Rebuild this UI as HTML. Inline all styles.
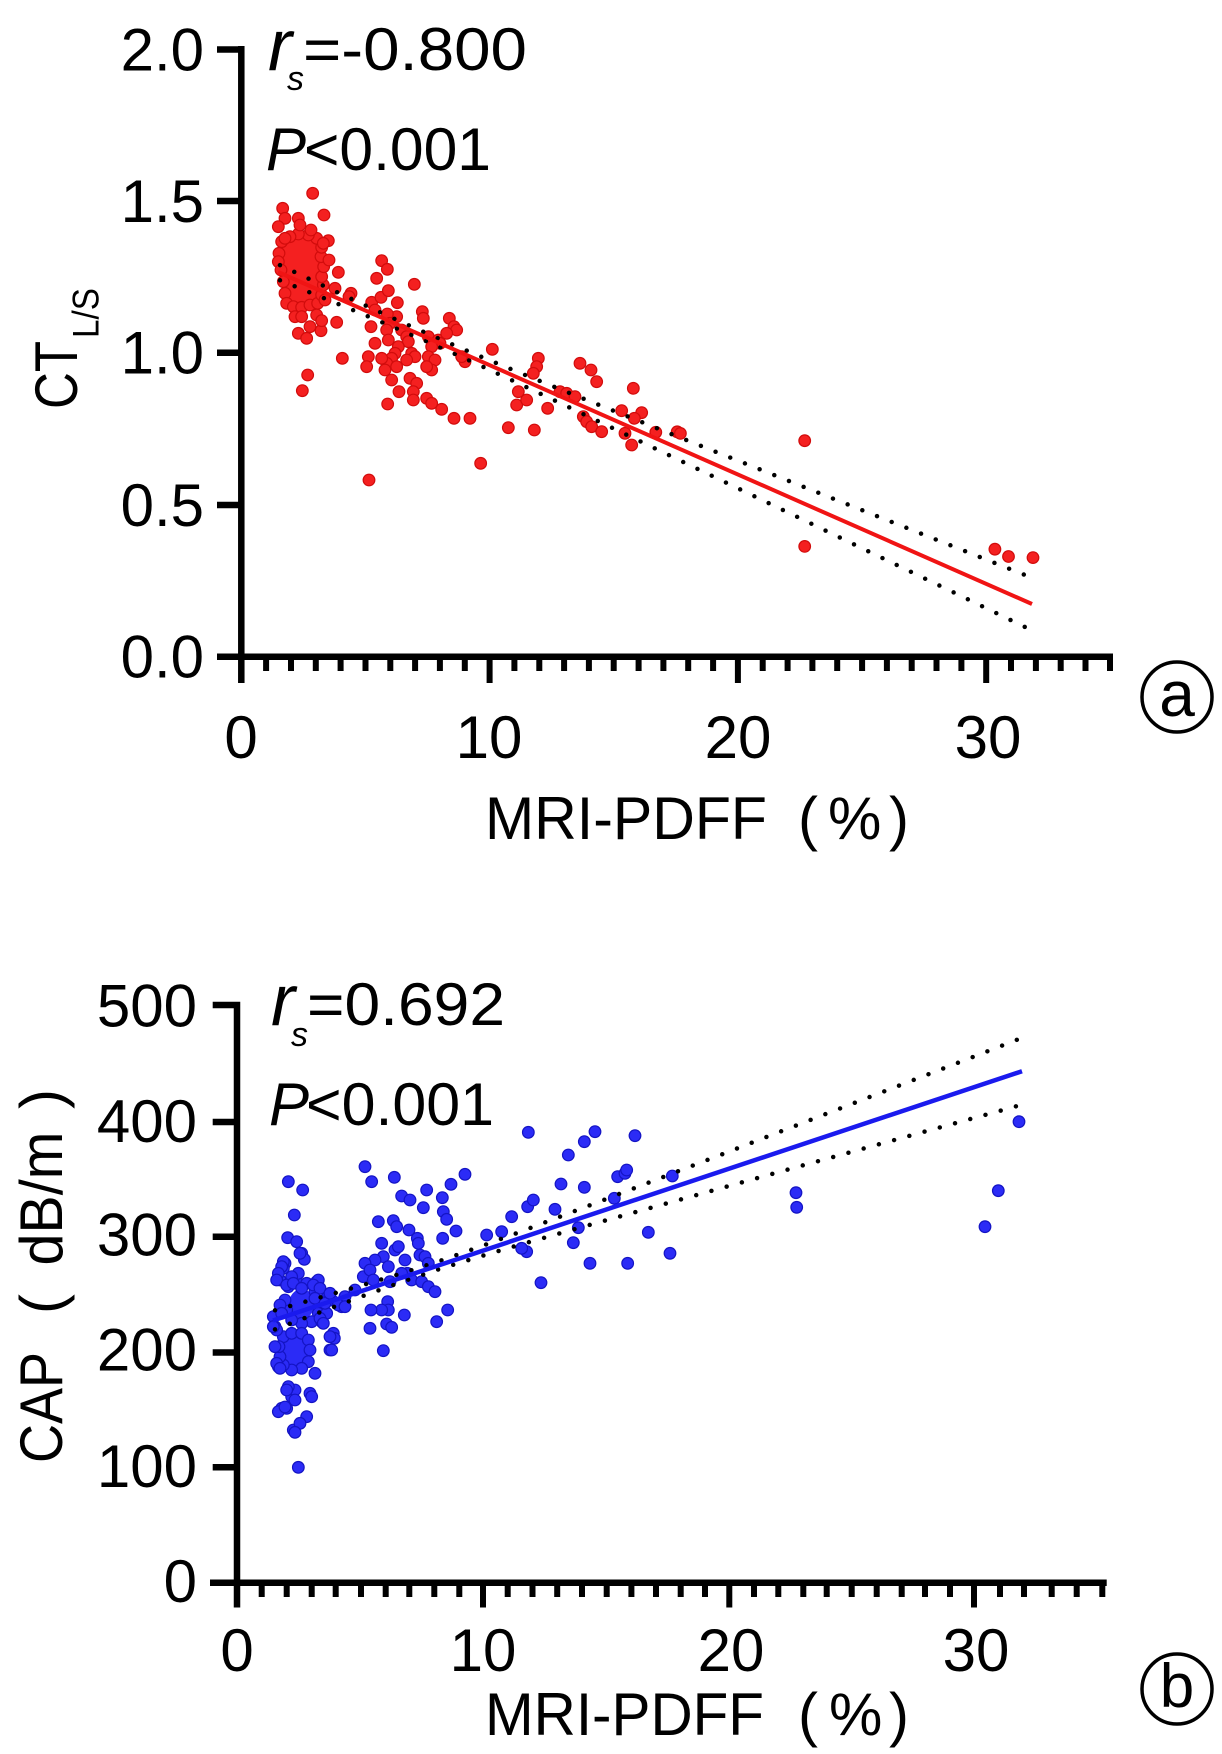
<!DOCTYPE html>
<html><head><meta charset="utf-8"><style>
html,body{margin:0;padding:0;background:#fff;}
svg{display:block;}
text{font-family:"Liberation Sans",Arial,"Noto Sans CJK SC",sans-serif;fill:#000;}
</style></head><body>
<svg width="1222" height="1754" viewBox="0 0 1222 1754" xmlns="http://www.w3.org/2000/svg">
<rect width="1222" height="1754" fill="#fff"/>

<!-- ================= PANEL A ================= -->
<g transform="translate(255,170) scale(0.33333)" fill="#f42020" stroke="#d20c0c" stroke-width="3.5">
<path d="M82,205 L170,192 L198,228 L205,300 L198,365 L190,405 L105,412 L86,380 L76,300 L72,235 Z" stroke="none"/>
<g>
<circle cx="80" cy="215" r="17.5"/><circle cx="72" cy="250" r="17.5"/><circle cx="70" cy="275" r="17.5"/><circle cx="78" cy="300" r="17.5"/><circle cx="85" cy="335" r="17.5"/><circle cx="90" cy="370" r="17.5"/><circle cx="95" cy="400" r="17.5"/><circle cx="115" cy="410" r="17.5"/><circle cx="140" cy="412" r="17.5"/><circle cx="165" cy="405" r="17.5"/><circle cx="188" cy="400" r="17.5"/><circle cx="200" cy="375" r="17.5"/><circle cx="205" cy="345" r="17.5"/><circle cx="200" cy="320" r="17.5"/><circle cx="206" cy="290" r="17.5"/><circle cx="198" cy="260" r="17.5"/><circle cx="200" cy="232" r="17.5"/><circle cx="185" cy="205" r="17.5"/><circle cx="160" cy="195" r="17.5"/><circle cx="130" cy="192" r="17.5"/><circle cx="105" cy="200" r="17.5"/><circle cx="90" cy="205" r="17.5"/>
<circle cx="173" cy="70" r="17.5"/><circle cx="83" cy="115" r="17.5"/><circle cx="90" cy="145" r="17.5"/><circle cx="70" cy="170" r="17.5"/><circle cx="207" cy="135" r="17.5"/><circle cx="130" cy="145" r="17.5"/><circle cx="135" cy="165" r="17.5"/><circle cx="168" cy="180" r="17.5"/><circle cx="220" cy="212" r="17.5"/><circle cx="205" cy="220" r="17.5"/><circle cx="222" cy="270" r="17.5"/><circle cx="250" cy="307" r="17.5"/><circle cx="380" cy="272" r="17.5"/><circle cx="397" cy="298" r="17.5"/><circle cx="365" cy="325" r="17.5"/><circle cx="478" cy="343" r="17.5"/><circle cx="240" cy="355" r="17.5"/><circle cx="288" cy="370" r="17.5"/><circle cx="282" cy="380" r="17.5"/><circle cx="210" cy="390" r="17.5"/><circle cx="350" cy="397" r="17.5"/><circle cx="378" cy="382" r="17.5"/><circle cx="400" cy="362" r="17.5"/><circle cx="427" cy="398" r="17.5"/><circle cx="360" cy="420" r="17.5"/><circle cx="425" cy="440" r="17.5"/><circle cx="397" cy="432" r="17.5"/><circle cx="405" cy="460" r="17.5"/><circle cx="502" cy="425" r="17.5"/><circle cx="505" cy="445" r="17.5"/><circle cx="583" cy="445" r="17.5"/><circle cx="597" cy="470" r="17.5"/><circle cx="605" cy="480" r="17.5"/><circle cx="245" cy="457" r="17.5"/><circle cx="130" cy="490" r="17.5"/><circle cx="155" cy="505" r="17.5"/><circle cx="198" cy="482" r="17.5"/><circle cx="165" cy="470" r="17.5"/><circle cx="185" cy="435" r="17.5"/><circle cx="200" cy="452" r="17.5"/><circle cx="120" cy="440" r="17.5"/><circle cx="140" cy="440" r="17.5"/><circle cx="348" cy="470" r="17.5"/><circle cx="395" cy="480" r="17.5"/><circle cx="400" cy="510" r="17.5"/><circle cx="440" cy="480" r="17.5"/><circle cx="455" cy="500" r="17.5"/><circle cx="460" cy="515" r="17.5"/><circle cx="430" cy="530" r="17.5"/><circle cx="520" cy="500" r="17.5"/><circle cx="550" cy="510" r="17.5"/><circle cx="555" cy="520" r="17.5"/><circle cx="575" cy="490" r="17.5"/><circle cx="530" cy="530" r="17.5"/><circle cx="520" cy="560" r="17.5"/><circle cx="540" cy="570" r="17.5"/><circle cx="530" cy="600" r="17.5"/><circle cx="515" cy="590" r="17.5"/><circle cx="470" cy="550" r="17.5"/><circle cx="480" cy="560" r="17.5"/><circle cx="455" cy="570" r="17.5"/><circle cx="420" cy="550" r="17.5"/><circle cx="410" cy="565" r="17.5"/><circle cx="395" cy="580" r="17.5"/><circle cx="380" cy="565" r="17.5"/><circle cx="360" cy="520" r="17.5"/><circle cx="340" cy="560" r="17.5"/><circle cx="335" cy="590" r="17.5"/><circle cx="390" cy="600" r="17.5"/><circle cx="425" cy="590" r="17.5"/><circle cx="410" cy="630" r="17.5"/><circle cx="465" cy="625" r="17.5"/><circle cx="485" cy="640" r="17.5"/><circle cx="475" cy="665" r="17.5"/><circle cx="475" cy="690" r="17.5"/><circle cx="432" cy="665" r="17.5"/><circle cx="398" cy="702" r="17.5"/><circle cx="515" cy="685" r="17.5"/><circle cx="530" cy="700" r="17.5"/><circle cx="560" cy="718" r="17.5"/><circle cx="597" cy="745" r="17.5"/><circle cx="645" cy="745" r="17.5"/><circle cx="262" cy="565" r="17.5"/><circle cx="158" cy="615" r="17.5"/><circle cx="142" cy="662" r="17.5"/><circle cx="342" cy="930" r="17.5"/><circle cx="677" cy="880" r="17.5"/><circle cx="712" cy="538" r="17.5"/><circle cx="850" cy="565" r="17.5"/><circle cx="845" cy="590" r="17.5"/><circle cx="835" cy="610" r="17.5"/><circle cx="790" cy="665" r="17.5"/><circle cx="785" cy="705" r="17.5"/><circle cx="815" cy="690" r="17.5"/><circle cx="878" cy="715" r="17.5"/><circle cx="915" cy="665" r="17.5"/><circle cx="935" cy="670" r="17.5"/><circle cx="960" cy="680" r="17.5"/><circle cx="975" cy="580" r="17.5"/><circle cx="1008" cy="600" r="17.5"/><circle cx="1025" cy="635" r="17.5"/><circle cx="985" cy="740" r="17.5"/><circle cx="995" cy="755" r="17.5"/><circle cx="1010" cy="770" r="17.5"/><circle cx="1040" cy="785" r="17.5"/><circle cx="1100" cy="722" r="17.5"/><circle cx="1135" cy="655" r="17.5"/><circle cx="1160" cy="728" r="17.5"/><circle cx="1138" cy="745" r="17.5"/><circle cx="1110" cy="790" r="17.5"/><circle cx="1130" cy="825" r="17.5"/><circle cx="760" cy="773" r="17.5"/><circle cx="838" cy="780" r="17.5"/><circle cx="630" cy="575" r="17.5"/><circle cx="620" cy="560" r="17.5"/>
</g>
</g>
<g fill="#f42020" stroke="#d20c0c" stroke-width="1.2">
<circle cx="655.8" cy="432.3" r="5.8"/><circle cx="677.2" cy="431.8" r="5.8"/><circle cx="680.4" cy="433.4" r="5.8"/><circle cx="804.7" cy="440.7" r="5.8"/><circle cx="804.7" cy="546.4" r="5.8"/><circle cx="994.9" cy="549.2" r="5.8"/><circle cx="1008.5" cy="556.5" r="5.8"/><circle cx="1033" cy="557.6" r="5.8"/>
</g>
<g fill="none" stroke="#000" stroke-width="4.5" stroke-linecap="round" stroke-dasharray="0 15.8">
<polyline points="280,265.1 320,284.15 360,302.97 400,321.4 440,339.2 480,356.25 520,372.9 560,389.2 600,405.35 640,421.4 680,437.5 720,453.5 760,469.4 800,485.4 840,501.4 880,517.3 920,533.2 960,549.1 1000,565.1 1030,577"/>
<polyline points="280,280.3 320,296.55 360,312.97 400,329.8 440,347.2 480,365.35 520,384.1 560,403 600,422.05 640,441.2 680,460.5 720,479.7 760,499 800,518.2 840,537.6 880,556.9 920,576.2 960,595.5 1000,614.9 1030,629.4"/>
</g>
<line x1="278" y1="272" x2="1032" y2="604" stroke="#f01414" stroke-width="4"/>

<g stroke="#000" fill="none">
<path d="M241.3,46 V683 M217,49.5 H241 M217,201 H241 M217,352.7 H241 M217,505 H241 M217,656.7 H1113" stroke-width="6.5"/>
<path stroke-width="6" d="M266.1,657V671 M291,657V671 M315.8,657V671 M340.6,657V671 M365.5,657V671 M390.3,657V671 M415.1,657V671 M439.9,657V671 M464.8,657V671 M489.6,657V683 M514.4,657V671 M539.3,657V671 M564.1,657V671 M588.9,657V671 M613.7,657V671 M638.6,657V671 M663.4,657V671 M688.2,657V671 M713.1,657V671 M737.9,657V683 M762.7,657V671 M787.6,657V671 M812.4,657V671 M837.2,657V671 M862.1,657V671 M886.9,657V671 M911.7,657V671 M936.5,657V671 M961.4,657V671 M986.2,657V683 M1011,657V671 M1035.9,657V671 M1060.7,657V671 M1085.5,657V671 M1110,657V671"/>
</g>
<g font-size="60" text-anchor="end">
<text x="204" y="70.5">2.0</text><text x="204" y="222">1.5</text><text x="204" y="373.7">1.0</text><text x="204" y="526">0.5</text><text x="204" y="677.7">0.0</text>
</g>
<g font-size="60" text-anchor="middle">
<text x="241" y="758">0</text><text x="489" y="758">10</text><text x="738" y="758">20</text><text x="988" y="758">30</text>
</g>
<text x="268" y="70" font-size="72" font-style="italic">r</text>
<text x="287" y="90" font-size="34" font-style="italic">s</text>
<text x="303" y="70" font-size="60" textLength="224" lengthAdjust="spacingAndGlyphs">=-0.800</text>
<text x="266" y="170" font-size="60" font-style="italic">P</text>
<text x="304" y="170" font-size="60" textLength="187" lengthAdjust="spacingAndGlyphs">&lt;0.001</text>
<text transform="translate(77,409) rotate(-90)" font-size="60" textLength="68" lengthAdjust="spacingAndGlyphs">CT</text>
<text transform="translate(98.5,338) rotate(-90)" font-size="37" textLength="50" lengthAdjust="spacingAndGlyphs">L/S</text>
<text x="485" y="839" font-size="60" textLength="282" lengthAdjust="spacingAndGlyphs">MRI-PDFF</text>
<text x="798" y="839" font-size="60">(</text>
<text x="828" y="839" font-size="60">%</text>
<text x="889" y="839" font-size="60">)</text>
<circle cx="1177" cy="697" r="35" fill="none" stroke="#000" stroke-width="3.5"/>
<text x="1177" y="716" font-size="64" text-anchor="middle">a</text>

<!-- ================= PANEL B ================= -->
<g transform="translate(255,1100) scale(0.33333)" fill="#2b2bf6" stroke="#1414c4" stroke-width="3.5">
<ellipse cx="140" cy="612" rx="38" ry="45" stroke="none"/>
<ellipse cx="120" cy="755" rx="42" ry="55" stroke="none"/>
<circle cx="100" cy="560" r="17.5"/><circle cx="125" cy="545" r="17.5"/><circle cx="155" cy="550" r="17.5"/><circle cx="180" cy="575" r="17.5"/><circle cx="195" cy="610" r="17.5"/><circle cx="190" cy="640" r="17.5"/><circle cx="170" cy="665" r="17.5"/><circle cx="140" cy="670" r="17.5"/><circle cx="110" cy="660" r="17.5"/><circle cx="95" cy="630" r="17.5"/><circle cx="90" cy="600" r="17.5"/><circle cx="215" cy="595" r="17.5"/><circle cx="185" cy="545" r="17.5"/><circle cx="130" cy="520" r="17.5"/><circle cx="110" cy="530" r="17.5"/>
<circle cx="85" cy="710" r="17.5"/><circle cx="110" cy="700" r="17.5"/><circle cx="140" cy="700" r="17.5"/><circle cx="160" cy="720" r="17.5"/><circle cx="165" cy="750" r="17.5"/><circle cx="160" cy="785" r="17.5"/><circle cx="140" cy="805" r="17.5"/><circle cx="110" cy="810" r="17.5"/><circle cx="85" cy="795" r="17.5"/><circle cx="75" cy="770" r="17.5"/><circle cx="72" cy="740" r="17.5"/>
<circle cx="820" cy="97" r="17.5"/><circle cx="1020" cy="95" r="17.5"/><circle cx="988" cy="125" r="17.5"/><circle cx="940" cy="165" r="17.5"/><circle cx="1140" cy="107" r="17.5"/><circle cx="330" cy="200" r="17.5"/><circle cx="350" cy="245" r="17.5"/><circle cx="418" cy="232" r="17.5"/><circle cx="630" cy="223" r="17.5"/><circle cx="588" cy="253" r="17.5"/><circle cx="515" cy="270" r="17.5"/><circle cx="440" cy="288" r="17.5"/><circle cx="465" cy="300" r="17.5"/><circle cx="505" cy="323" r="17.5"/><circle cx="562" cy="293" r="17.5"/><circle cx="565" cy="335" r="17.5"/><circle cx="575" cy="358" r="17.5"/><circle cx="603" cy="393" r="17.5"/><circle cx="563" cy="415" r="17.5"/><circle cx="370" cy="365" r="17.5"/><circle cx="415" cy="362" r="17.5"/><circle cx="425" cy="380" r="17.5"/><circle cx="462" cy="390" r="17.5"/><circle cx="487" cy="415" r="17.5"/><circle cx="490" cy="430" r="17.5"/><circle cx="495" cy="465" r="17.5"/><circle cx="510" cy="470" r="17.5"/><circle cx="520" cy="490" r="17.5"/><circle cx="450" cy="480" r="17.5"/><circle cx="457" cy="520" r="17.5"/><circle cx="470" cy="540" r="17.5"/><circle cx="500" cy="545" r="17.5"/><circle cx="520" cy="560" r="17.5"/><circle cx="540" cy="575" r="17.5"/><circle cx="545" cy="665" r="17.5"/><circle cx="578" cy="630" r="17.5"/><circle cx="448" cy="645" r="17.5"/><circle cx="398" cy="605" r="17.5"/><circle cx="400" cy="630" r="17.5"/><circle cx="380" cy="630" r="17.5"/><circle cx="348" cy="630" r="17.5"/><circle cx="345" cy="685" r="17.5"/><circle cx="395" cy="672" r="17.5"/><circle cx="410" cy="682" r="17.5"/><circle cx="385" cy="752" r="17.5"/><circle cx="380" cy="430" r="17.5"/><circle cx="385" cy="470" r="17.5"/><circle cx="360" cy="480" r="17.5"/><circle cx="330" cy="490" r="17.5"/><circle cx="325" cy="530" r="17.5"/><circle cx="345" cy="510" r="17.5"/><circle cx="355" cy="540" r="17.5"/><circle cx="405" cy="545" r="17.5"/><circle cx="420" cy="450" r="17.5"/><circle cx="430" cy="440" r="17.5"/><circle cx="400" cy="500" r="17.5"/><circle cx="440" cy="520" r="17.5"/><circle cx="300" cy="570" r="17.5"/><circle cx="270" cy="590" r="17.5"/><circle cx="260" cy="620" r="17.5"/><circle cx="230" cy="600" r="17.5"/><circle cx="215" cy="640" r="17.5"/><circle cx="200" cy="665" r="17.5"/><circle cx="235" cy="700" r="17.5"/><circle cx="238" cy="715" r="17.5"/><circle cx="225" cy="750" r="17.5"/><circle cx="180" cy="820" r="17.5"/><circle cx="165" cy="880" r="17.5"/><circle cx="170" cy="890" r="17.5"/><circle cx="155" cy="950" r="17.5"/><circle cx="80" cy="925" r="17.5"/><circle cx="95" cy="925" r="17.5"/><circle cx="110" cy="890" r="17.5"/><circle cx="120" cy="870" r="17.5"/><circle cx="100" cy="860" r="17.5"/><circle cx="70" cy="800" r="17.5"/><circle cx="100" cy="245" r="17.5"/><circle cx="143" cy="270" r="17.5"/><circle cx="118" cy="345" r="17.5"/><circle cx="98" cy="413" r="17.5"/><circle cx="125" cy="425" r="17.5"/><circle cx="140" cy="460" r="17.5"/><circle cx="148" cy="478" r="17.5"/><circle cx="90" cy="490" r="17.5"/><circle cx="85" cy="505" r="17.5"/><circle cx="75" cy="540" r="17.5"/><circle cx="190" cy="540" r="17.5"/><circle cx="175" cy="555" r="17.5"/><circle cx="200" cy="605" r="17.5"/><circle cx="60" cy="680" r="17.5"/><circle cx="55" cy="650" r="17.5"/><circle cx="695" cy="405" r="17.5"/><circle cx="740" cy="395" r="17.5"/><circle cx="770" cy="350" r="17.5"/><circle cx="815" cy="455" r="17.5"/><circle cx="800" cy="445" r="17.5"/><circle cx="858" cy="548" r="17.5"/><circle cx="818" cy="320" r="17.5"/><circle cx="835" cy="300" r="17.5"/><circle cx="900" cy="328" r="17.5"/><circle cx="918" cy="252" r="17.5"/><circle cx="988" cy="262" r="17.5"/><circle cx="1005" cy="490" r="17.5"/><circle cx="1118" cy="490" r="17.5"/><circle cx="1180" cy="397" r="17.5"/><circle cx="955" cy="428" r="17.5"/><circle cx="970" cy="383" r="17.5"/><circle cx="1078" cy="295" r="17.5"/><circle cx="1088" cy="230" r="17.5"/><circle cx="1110" cy="220" r="17.5"/><circle cx="1115" cy="210" r="17.5"/>
<circle cx="135" cy="460" r="17.5"/><circle cx="85" cy="485" r="17.5"/><circle cx="80" cy="500" r="17.5"/><circle cx="70" cy="520" r="17.5"/><circle cx="65" cy="540" r="17.5"/><circle cx="95" cy="555" r="17.5"/><circle cx="115" cy="550" r="17.5"/><circle cx="140" cy="565" r="17.5"/><circle cx="195" cy="565" r="17.5"/><circle cx="180" cy="595" r="17.5"/><circle cx="210" cy="610" r="17.5"/><circle cx="225" cy="580" r="17.5"/><circle cx="195" cy="655" r="17.5"/><circle cx="205" cy="670" r="17.5"/><circle cx="225" cy="710" r="17.5"/><circle cx="230" cy="750" r="17.5"/><circle cx="65" cy="690" r="17.5"/><circle cx="60" cy="740" r="17.5"/><circle cx="55" cy="680" r="17.5"/><circle cx="75" cy="615" r="17.5"/><circle cx="80" cy="640" r="17.5"/><circle cx="65" cy="790" r="17.5"/><circle cx="75" cy="805" r="17.5"/><circle cx="95" cy="870" r="17.5"/><circle cx="120" cy="900" r="17.5"/><circle cx="115" cy="990" r="17.5"/><circle cx="135" cy="970" r="17.5"/><circle cx="70" cy="935" r="17.5"/><circle cx="90" cy="921" r="17.5"/><circle cx="250" cy="615" r="17.5"/><circle cx="270" cy="620" r="17.5"/><circle cx="130" cy="1102" r="17.5"/><circle cx="120" cy="997" r="17.5"/>
</g>
<g fill="#2b2bf6" stroke="#1414c4" stroke-width="1.2">
<circle cx="672.3" cy="1176" r="5.8"/><circle cx="670" cy="1253.3" r="5.8"/><circle cx="796" cy="1192.7" r="5.8"/><circle cx="796.7" cy="1207.3" r="5.8"/><circle cx="998.3" cy="1190.7" r="5.8"/><circle cx="985" cy="1226.7" r="5.8"/><circle cx="1019" cy="1121.7" r="5.8"/>
</g>
<g fill="none" stroke="#000" stroke-width="4.5" stroke-linecap="round" stroke-dasharray="0 15.8">
<polyline points="275,1310.3 320,1297.5 360,1285.9 400,1273.9 440,1260.9 480,1246.7 520,1231.9 560,1216.7 600,1201.4 640,1186 680,1170.5 720,1155.1 760,1139.5 800,1124 840,1108.5 880,1093 920,1077.5 960,1062 1000,1046.4 1022,1037.8"/>
<polyline points="275,1329.4 320,1312.2 360,1297.1 400,1282.5 440,1268.9 480,1256.5 520,1244.7 560,1233.3 600,1222 640,1210.8 680,1199.7 720,1188.5 760,1177.3 800,1166.2 840,1155.1 880,1144 920,1132.9 960,1121.9 1000,1110.8 1022,1104.6"/>
</g>
<line x1="273" y1="1320.5" x2="1022" y2="1071.2" stroke="#1a1aee" stroke-width="4.5"/>

<g stroke="#000" fill="none">
<path d="M237,1001.7 V1607.5 M212.7,1005 H237 M212.7,1122 H237 M212.7,1236.7 H237 M212.7,1352.5 H237 M212.7,1467.3 H237 M210,1582.7 H1106.7" stroke-width="6.5"/>
<path stroke-width="6" d="M261.7,1583V1597 M286.7,1583V1597 M311.7,1583V1597 M335.7,1583V1597 M361,1583V1597 M385.7,1583V1597 M409.3,1583V1597 M434.3,1583V1597 M459.3,1583V1597 M483,1583V1607.5 M507.7,1583V1597 M532.5,1583V1597 M557.2,1583V1597 M582,1583V1597 M606.7,1583V1597 M631.4,1583V1597 M656,1583V1597 M680.7,1583V1597 M705,1583V1597 M729.3,1583V1607.5 M754,1583V1597 M778.3,1583V1597 M803.3,1583V1597 M826.7,1583V1597 M851.7,1583V1597 M876.7,1583V1597 M901.7,1583V1597 M925,1583V1597 M950,1583V1597 M974,1583V1607.5 M1000,1583V1597 M1024,1583V1597 M1051.7,1583V1597 M1076.7,1583V1597 M1102.3,1583V1597"/>
</g>
<g font-size="60" text-anchor="end">
<text x="197" y="1026.5">500</text><text x="197" y="1142">400</text><text x="197" y="1255.5">300</text><text x="197" y="1370.5">200</text><text x="197" y="1487">100</text><text x="197" y="1602">0</text>
</g>
<g font-size="60" text-anchor="middle">
<text x="237" y="1671">0</text><text x="483" y="1671">10</text><text x="731" y="1671">20</text><text x="976" y="1671">30</text>
</g>
<text x="271" y="1025" font-size="72" font-style="italic">r</text>
<text x="291" y="1046" font-size="34" font-style="italic">s</text>
<text x="307" y="1025" font-size="60" textLength="198" lengthAdjust="spacingAndGlyphs">=0.692</text>
<text x="269" y="1125" font-size="60" font-style="italic">P</text>
<text x="306" y="1125" font-size="60" textLength="188" lengthAdjust="spacingAndGlyphs">&lt;0.001</text>
<text transform="translate(62,1463) rotate(-90)" font-size="60" textLength="111" lengthAdjust="spacingAndGlyphs">CAP</text>
<text transform="translate(62,1314) rotate(-90)" font-size="60">(</text>
<text transform="translate(62,1265.5) rotate(-90)" font-size="60" textLength="134" lengthAdjust="spacingAndGlyphs">dB/m</text>
<text transform="translate(62,1109) rotate(-90)" font-size="60">)</text>
<text x="485" y="1735" font-size="60" textLength="279" lengthAdjust="spacingAndGlyphs">MRI-PDFF</text>
<text x="798" y="1735" font-size="60">(</text>
<text x="829" y="1735" font-size="60">%</text>
<text x="889" y="1735" font-size="60">)</text>
<circle cx="1177" cy="1689" r="35" fill="none" stroke="#000" stroke-width="3.5"/>
<text x="1177" y="1707" font-size="62" text-anchor="middle">b</text>
</svg>
</body></html>
